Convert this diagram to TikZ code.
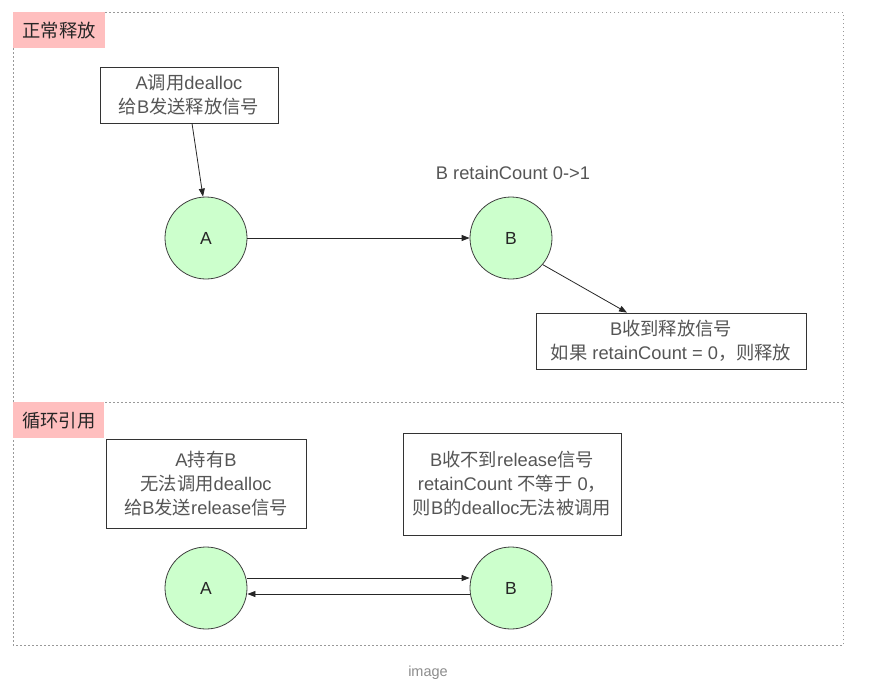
\documentclass[tikz,border=0pt]{standalone}
\usepackage{fontspec}
\setmainfont{Liberation Sans}
\newfontfamily\cjk{Noto Sans CJK SC}
\usetikzlibrary{arrows.meta}
\definecolor{txtgray}{HTML}{555555}
\definecolor{nodegreen}{HTML}{CCFFCC}
\definecolor{tagpink}{HTML}{FFBFBF}
\definecolor{framegray}{HTML}{999999}
\newcommand{\zh}[1]{{\cjk #1}}
\begin{document}
\begin{tikzpicture}[x=1pt,y=-1pt,
  every node/.style={font=\fontsize{18.3}{24}\selectfont, inner sep=0pt},
  frame/.style={draw=framegray, line width=0.8pt, dash pattern=on 1.5pt off 2.5pt},
  tag/.style={fill=tagpink, text=black!85, anchor=north west, minimum height=36pt, align=left, inner xsep=9pt},
  note/.style={draw=black!80, line width=0.8pt, text=txtgray, align=center, minimum height=56pt},
  obj/.style={circle, draw=black!75, fill=nodegreen, line width=0.8pt, minimum size=82pt, text=black!85, font=\fontsize{17.5}{20}\selectfont},
  link/.style={-{Triangle[length=8pt,width=6pt]}, line width=0.8pt, black!85}]
\useasboundingbox (0,0) rectangle (873,689);
% frames
\draw[frame] (13,12) rectangle (843,645);
\draw[frame] (13,402) -- (843,402);
% tags
\node[tag, minimum width=92pt] (t1) at (13,12) {\zh{正常释放}};
\node[tag, minimum width=87pt] (t2) at (13,402) {\zh{循环引用}};
% top section
\node[note, minimum width=178pt] (n1) at (189,95) {A\zh{调用}dealloc\\\zh{给}B\zh{发送释放信号}};
\node[obj] (a1) at (206,238) {A};
\node[obj] (b1) at (511,238) {B};
\node[text=txtgray] (lbl) at (513,173) {B retainCount 0->1};
\node[note, minimum width=270pt] (n2) at (671,341) {B\zh{收到释放信号}\\\zh{如果} retainCount = 0\zh{，则释放}};
\draw[link] (n1.south -| 192,0) -- (a1.north -| 203,0);
\draw[link] (a1) -- (b1);
\draw[link] (b1.-40) -- (n2.north -| 627,0);
% bottom section
\node[note, minimum width=200pt, minimum height=89pt] (n3) at (206,483.5) {A\zh{持有}B\\\zh{无法调用}dealloc\\\zh{给}B\zh{发送}release\zh{信号}};
\node[note, minimum width=218pt, minimum height=102pt] (n4) at (512,484) {B\zh{收不到}release\zh{信号}\\retainCount \zh{不等于} 0\zh{，}\\\zh{则}B\zh{的}dealloc\zh{无法被调用}};
\node[obj] (a2) at (206,588) {A};
\node[obj] (b2) at (511,588) {B};
\draw[link] (a2.east |- 0,578) -- (b2.west |- 0,578);
\draw[link] (b2.west |- 0,594) -- (a2.east |- 0,594);
\node[text=black!45, font=\fontsize{14.5}{16}\selectfont] (cap) at (428,673) {image};
\end{tikzpicture}
\end{document}
